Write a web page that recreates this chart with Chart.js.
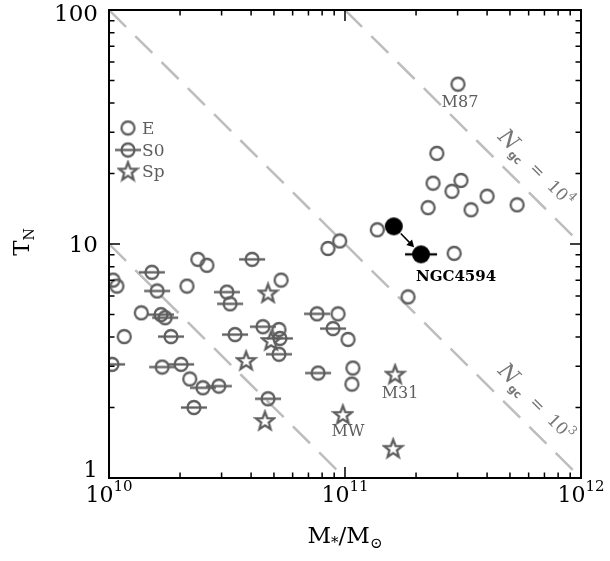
<!DOCTYPE html>
<html>
<head>
<meta charset="utf-8">
<script src="https://cdn.jsdelivr.net/npm/chart.js@4.4.1/dist/chart.umd.min.js"></script>
<style>
    html, body { margin: 0; padding: 0; background: #fff; }
    #grafico { display: block; }
</style>
</head>
<body>
<canvas id="grafico" width="610" height="561"></canvas>
<script>
// ==========================
// DADOS
// ==========================
// elipticas (E)
const eMass = [3.01e11, 2.45e11, 2.36e11, 3.10e11, 2.84e11, 4.0e11, 2.25e11, 3.42e11, 5.36e11, 1.37e11,
    9.5e10, 8.47e10, 2.90e11, 1.85e11, 9.34e10, 1.03e11, 1.08e11, 1.07e11, 2.38e10, 2.60e10,
    1.04e10, 1.08e10, 2.14e10, 5.36e10, 1.37e10, 1.16e10, 5.25e10, 2.20e10];
const eTN = [48.2, 24.4, 18.2, 18.7, 16.8, 16.0, 14.3, 14.0, 14.7, 11.5,
    10.3, 9.57, 9.12, 5.94, 5.03, 3.91, 2.95, 2.52, 8.6, 8.11,
    7.01, 6.61, 6.61, 7.01, 5.08, 4.02, 4.31, 2.65];

// lenticulares (S0)
const s0Mass = [7.61e10, 8.90e10, 7.69e10, 4.04e10, 1.52e10, 1.60e10, 3.16e10, 3.26e10, 1.66e10, 1.73e10, 1.83e10,
    3.42e10, 4.49e10, 5.30e10, 5.25e10, 1.03e10, 1.68e10, 2.02e10, 2.50e10, 2.92e10, 4.72e10, 2.29e10];
const s0TN = [5.03, 4.35, 2.81, 8.6, 7.57, 6.3, 6.23, 5.55, 4.99, 4.84, 4.02,
    4.10, 4.43, 3.95, 3.38, 3.06, 2.98, 3.06, 2.43, 2.47, 2.18, 2.0];

// espirais (Sp)
const spMass = [4.72e10, 3.81e10, 4.86e10, 4.58e10, 9.8e10, 1.63e11, 1.60e11];
const spTN = [6.18, 3.18, 3.87, 1.76, 1.87, 2.78, 1.34];

// NGC4594 (antes -> depois)
const ngcMass = [1.61e11, 2.10e11];
const ngcTN = [11.9, 9.03];

// nomes
const nomes = ["M87", "M31", "MW"];
const nomesMass = [3.01e11, 1.63e11, 9.8e10];
const nomesTN = [48.2, 2.78, 1.87];

// linhas de N_gc constante
const linhaExp = ["2", "3", "4"];
const linhaMass = [[1e10, 1e11], [1e10, 1e12], [1e11, 1e12]];
const linhaTN = [[10, 1], [100, 1], [100, 10]];
const rotuloExp = ["3", "4"];
const rotuloMass = [6.46e11, 6.46e11];
const rotuloTN = [1.55, 15.5];

// ticks
const xTicks = [1e10, 1e11, 1e12];
const xTickExp = ["10", "11", "12"];
const yTicks = [1, 10, 100];
const yTickLabels = ["1", "10", "100"];

const CINZA = "#5e5e5e";
const SERIF = '"DejaVu Serif"';

// ==========================
// MARCADORES
// ==========================
function imgCirculo(raio, barra, cor, cheio) {
    const c = document.createElement("canvas");
    c.width = barra ? 2 * barra + 2 : 2 * raio + 4;
    c.height = 2 * raio + 4;
    const g = c.getContext("2d");
    g.strokeStyle = cor;
    g.fillStyle = cor;
    g.lineWidth = 2.3;
    g.beginPath();
    g.arc(c.width / 2, c.height / 2, raio, 0, 2 * Math.PI);
    cheio ? g.fill() : g.stroke();
    if (barra) {
        g.beginPath();
        g.moveTo(c.width / 2 - barra, c.height / 2);
        g.lineTo(c.width / 2 + barra, c.height / 2);
        g.stroke();
    }
    return c;
}

function imgEstrela(raio) {
    const c = document.createElement("canvas");
    c.width = c.height = Math.ceil(2 * raio + 4);
    const g = c.getContext("2d");
    g.strokeStyle = CINZA;
    g.lineWidth = 2.3;
    g.beginPath();
    for (let i = 0; i < 10; i++) {
        const r = i % 2 === 0 ? raio : raio * 0.42;
        const a = -Math.PI / 2 + i * Math.PI / 5;
        const px = c.width / 2 + r * Math.cos(a);
        const py = c.height / 2 + 0.8 + r * Math.sin(a);
        if (i === 0) g.moveTo(px, py); else g.lineTo(px, py);
    }
    g.closePath();
    g.stroke();
    return c;
}

const marcaE = imgCirculo(6.5, 0, CINZA, false);
const marcaS0 = imgCirculo(6.5, 13, CINZA, false);
const marcaSp = imgEstrela(9.5);
const marcaNgcA = imgCirculo(9, 0, "#000", true);
const marcaNgcB = imgCirculo(9, 16, "#000", true);

const pontos = (m, t) => m.map((v, i) => ({ x: v, y: t[i] }));

// ==========================
// DESENHO DOS EIXOS E TEXTOS
// ==========================
function texto(ctx, partes, x, y, alinha) {
    let w = 0;
    partes.forEach(p => { ctx.font = p.f; p.w = ctx.measureText(p.t).width; w += p.w; });
    let px = alinha === "center" ? x - w / 2 : (alinha === "right" ? x - w : x);
    partes.forEach(p => {
        ctx.font = p.f;
        ctx.fillText(p.t, px, y + (p.dy || 0));
        px += p.w;
    });
}

const eixos = {
    id: "eixos",
    afterDatasetsDraw(chart) {
        const { ctx, chartArea: a, scales: { x, y } } = chart;
        ctx.save();

        // caixa
        ctx.strokeStyle = "#000";
        ctx.lineWidth = 2;
        ctx.strokeRect(a.left, a.top, a.right - a.left, a.bottom - a.top);

        // ticks
        ctx.lineWidth = 1.5;
        ctx.beginPath();
        for (let d = 10; d < 12; d++) {
            for (let k = 1; k < 10; k++) {
                const px = x.getPixelForValue(k * Math.pow(10, d));
                const len = k === 1 ? 11 : 5.5;
                ctx.moveTo(px, a.bottom); ctx.lineTo(px, a.bottom - len);
                ctx.moveTo(px, a.top); ctx.lineTo(px, a.top + len);
            }
        }
        for (let d = 0; d < 2; d++) {
            for (let k = 1; k < 10; k++) {
                const py = y.getPixelForValue(k * Math.pow(10, d));
                const len = k === 1 ? 11 : 5.5;
                ctx.moveTo(a.left, py); ctx.lineTo(a.left + len, py);
                ctx.moveTo(a.right, py); ctx.lineTo(a.right - len, py);
            }
        }
        ctx.stroke();

        // rotulos dos ticks
        ctx.fillStyle = "#000";
        ctx.textBaseline = "alphabetic";
        xTicks.forEach((v, i) => {
            texto(ctx, [
                { t: "10", f: `22px ${SERIF}` },
                { t: xTickExp[i], f: `15px ${SERIF}`, dy: -11 }
            ], x.getPixelForValue(v), 502, "center");
        });
        yTicks.forEach((v, i) => {
            const py = Math.min(Math.max(y.getPixelForValue(v) + 8, 21), 477);
            texto(ctx, [{ t: yTickLabels[i], f: `23px ${SERIF}` }], 98, py, "right");
        });

        // titulos
        texto(ctx, [
            { t: "M", f: `23px ${SERIF}` },
            { t: "*", f: `15px ${SERIF}`, dy: 4 },
            { t: "/M", f: `23px ${SERIF}` },
            { t: "\u2299", f: `15px ${SERIF}`, dy: 5 }
        ], 345, 543, "center");

        ctx.save();
        ctx.translate(29, 242);
        ctx.rotate(-Math.PI / 2);
        texto(ctx, [
            { t: "T", f: `23px ${SERIF}` },
            { t: "N", f: `14px ${SERIF}`, dy: 5 }
        ], 0, 0, "center");
        ctx.restore();

        // legenda
        ctx.fillStyle = CINZA;
        const leg = [[marcaE, "E", 128], [marcaS0, "S0", 150], [marcaSp, "Sp", 171]];
        leg.forEach(([img, nome, py]) => {
            ctx.drawImage(img, 128 - img.width / 2, py - img.height / 2);
            texto(ctx, [{ t: nome, f: `17px ${SERIF}` }], 142, py + 6, "left");
        });

        // nomes das galaxias
        const desloc = [[2, 23], [5, 24], [5, 22]];
        nomes.forEach((n, i) => {
            const px = x.getPixelForValue(nomesMass[i]) + desloc[i][0];
            const py = y.getPixelForValue(nomesTN[i]) + desloc[i][1];
            texto(ctx, [{ t: n, f: `16px ${SERIF}` }], px, py, "center");
        });

        // NGC4594: seta e nome
        const ax = x.getPixelForValue(ngcMass[0]), ay = y.getPixelForValue(ngcTN[0]);
        const bx = x.getPixelForValue(ngcMass[1]), by = y.getPixelForValue(ngcTN[1]);
        const dist = Math.hypot(bx - ax, by - ay);
        const ux = (bx - ax) / dist, uy = (by - ay) / dist;
        const x0 = ax + ux * 10, y0 = ay + uy * 10;
        const x1 = bx - ux * 10, y1 = by - uy * 10;
        ctx.strokeStyle = "#000";
        ctx.fillStyle = "#000";
        ctx.lineWidth = 1.5;
        ctx.beginPath();
        ctx.moveTo(x0, y0);
        ctx.lineTo(x1 - ux * 5, y1 - uy * 5);
        ctx.stroke();
        ctx.beginPath();
        ctx.moveTo(x1, y1);
        ctx.lineTo(x1 - ux * 7 - uy * 4, y1 - uy * 7 + ux * 4);
        ctx.lineTo(x1 - ux * 7 + uy * 4, y1 - uy * 7 - ux * 4);
        ctx.closePath();
        ctx.fill();
        texto(ctx, [{ t: "NGC4594", f: `bold 15px ${SERIF}` }], bx + 35, by + 27, "center");

        // rotulos N_gc
        ctx.fillStyle = "#777";
        rotuloExp.forEach((e, i) => {
            const px = x.getPixelForValue(rotuloMass[i]);
            const py = y.getPixelForValue(rotuloTN[i]) - 31;
            ctx.save();
            ctx.translate(px, py);
            ctx.rotate(Math.PI / 4);
            texto(ctx, [
                { t: "N", f: `italic 22px ${SERIF}` },
                { t: "gc", f: 'bold 11px "DejaVu Sans"', dy: 5 },
                { t: "  =  10", f: `17px ${SERIF}` },
                { t: e, f: `12px ${SERIF}`, dy: -8 }
            ], 0, 6, "center");
            ctx.restore();
        });

        ctx.restore();
    }
};

// ==========================
// GRAFICO
// ==========================
const linhas = linhaMass.map((m, i) => ({
    type: "line",
    label: "Ngc 10^" + linhaExp[i],
    data: pontos(m, linhaTN[i]),
    borderColor: "#bdbdbd",
    borderWidth: 2.5,
    borderDash: [24, 13],
    pointRadius: 0,
    fill: false,
    clip: 0,
    order: 5
}));

new Chart(document.getElementById("grafico"), {
    type: "scatter",
    data: {
        datasets: [
            { label: "E", data: pontos(eMass, eTN), pointStyle: marcaE, pointRadius: 6, clip: 0, order: 2 },
            { label: "S0", data: pontos(s0Mass, s0TN), pointStyle: marcaS0, pointRadius: 6, clip: 0, order: 2 },
            { label: "Sp", data: pontos(spMass, spTN), pointStyle: marcaSp, pointRadius: 6, clip: 0, order: 2 },
            { label: "NGC4594", data: pontos(ngcMass, ngcTN), pointStyle: [marcaNgcA, marcaNgcB], pointRadius: 9, clip: 0, order: 1 },
            ...linhas
        ]
    },
    options: {
        responsive: false,
        animation: false,
        devicePixelRatio: 1,
        layout: { padding: { top: 5, right: 29, left: 0, bottom: 0 } },
        plugins: {
            legend: { display: false },
            tooltip: { enabled: false }
        },
        scales: {
            x: {
                type: "logarithmic",
                min: 1e10,
                max: 1e12,
                grid: { display: false, drawTicks: false },
                border: { display: false },
                ticks: { display: false },
                afterFit: s => { s.height = 83; }
            },
            y: {
                type: "logarithmic",
                min: 1,
                max: 100,
                grid: { display: false, drawTicks: false },
                border: { display: false },
                ticks: { display: false },
                afterFit: s => { s.width = 109; }
            }
        }
    },
    plugins: [eixos]
});
</script>
</body>
</html>
